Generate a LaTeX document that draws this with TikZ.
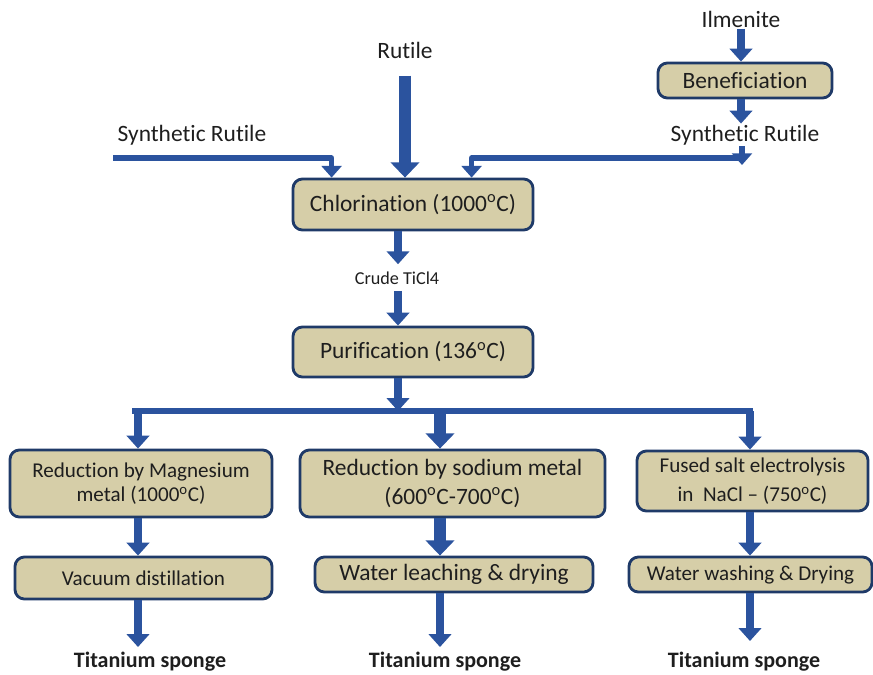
\documentclass[tikz,border=0pt]{standalone}
\usepackage{fontspec}
\setmainfont[Ligatures={NoCommon,NoContextual}]{Carlito}
\usetikzlibrary{arrows.meta,calc}
\definecolor{boxfill}{RGB}{214,206,168}
\definecolor{boxline}{RGB}{31,58,104}
\definecolor{flowblue}{RGB}{43,83,158}
\definecolor{txt}{RGB}{30,30,30}
\newcommand{\dg}{\textsuperscript{o}C}
\begin{document}
\begin{tikzpicture}[x=0.03cm,y=-0.03cm,line join=round,text=txt,
  box/.style={draw=boxline,fill=boxfill,line width=2.4pt,rounded corners=8pt,align=center,inner sep=0pt},
  big/.style={font=\fontsize{20pt}{25pt}\selectfont},
  small/.style={font=\fontsize{18pt}{21pt}\selectfont},
  flow/.style={draw=flowblue,line width=7pt,-{Triangle[width=19pt,length=11pt]}},
  bigflow/.style={draw=flowblue,line width=11pt,-{Triangle[width=24pt,length=13pt]}},
  feed/.style={draw=flowblue,line width=4.5pt,-{Triangle[width=17pt,length=10pt]}},
  pipe/.style={draw=flowblue,line width=4.5pt,line cap=rect}]
\useasboundingbox (0,0) rectangle (873,674);
% feeds
\node[big,inner sep=1pt] (rut) at (405,50) {Rutile};
\node[big,inner sep=1pt] (ilm) at (741,19) {Ilmenite};
\node[big,inner sep=1pt] (synL) at (192,135) {Synthetic Rutile};
\node[big,inner sep=1pt] (synR) at (745,135) {Synthetic Rutile};
\node[box,big,minimum width=5.22cm,minimum height=1.05cm] (benef) at (745,80.5) {Beneficiation};
% main line
\node[box,big,minimum width=7.2cm,minimum height=1.53cm] (chlor) at (413,204.5) {Chlorination (1000\dg)};
\node[font=\fontsize{15.5pt}{16pt}\selectfont,inner sep=1pt] (crude) at (397,278) {Crude TiCl4};
\node[box,big,minimum width=7.2cm,minimum height=1.5cm] (purif) at (413,352) {Purification (136\dg)};
% three routes
\node[box,small,minimum width=7.86cm,minimum height=2.01cm] (mg) at (141,483.5) {Reduction by Magnesium\\metal (1000\dg)};
\node[box,small,minimum width=7.71cm,minimum height=1.26cm] (vac) at (143.5,578) {Vacuum distillation};
\node[box,big,minimum width=9.15cm,minimum height=2.01cm] (na) at (452.5,483.5) {Reduction by sodium metal\\(600\dg-700\dg)};
\node[box,big,minimum width=8.34cm,minimum height=1.05cm] (leach) at (454,574.5) {Water leaching \& drying};
\node[box,small,font=\fontsize{18pt}{25pt}\selectfont,minimum width=6.93cm,minimum height=1.8cm] (salt) at (752.5,481) {Fused salt electrolysis\\in\ \ NaCl -- (750\dg)};
\node[box,small,minimum width=7.29cm,minimum height=1.05cm] (wash) at (750.5,574.5) {Water washing \& Drying};
\node[font=\fontsize{18.8pt}{20pt}\selectfont\bfseries,inner sep=1pt] (sp1) at (150,662) {Titanium sponge};
\node[font=\fontsize{18.8pt}{20pt}\selectfont\bfseries,inner sep=1pt] (sp2) at (445,662) {Titanium sponge};
\node[font=\fontsize{18.8pt}{20pt}\selectfont\bfseries,inner sep=1pt] (sp3) at (744,662) {Titanium sponge};
\coordinate (sl) at (113,158);
\coordinate (sr) at (742,158);
\coordinate (busL) at (138,411);
\coordinate (busM) at (440,411);
\coordinate (busR) at (750,411);
\coordinate (pf) at ($(purif.south)+(-15,0)$);
% arrows
\draw[bigflow] ($(rut.south)+(0,16)$) -- (rut.south |- chlor.north);
\draw[flow] (ilm.south) -- (ilm.south |- benef.north);
\draw[flow] (ilm.south |- benef.south) -- (ilm.south |- synR.north);
\draw[feed] (sr |- synR.south) -- ($(sr)+(0,7)$);
\draw[feed] (sl) -| ($(chlor.north west)+(40,0)$);
\draw[feed] (sr) -| ($(chlor.north west)+(180,0)$);
\draw[flow] ($(chlor.south)+(-15,0)$) -- ($(crude.north)+(1,-6)$);
\draw[flow] ($(crude.south)+(1,5)$) -- ($(purif.north)+(-15,0)$);
\draw[flow] (pf) -- (pf |- busL);
\draw[pipe] ($(busL)+(-3,0)$) -- (busR);
\draw[flow] (busL) -- (busL |- mg.north);
\draw[bigflow] (busM) -- (busM |- na.north);
\draw[flow] (busR) -- (busR |- salt.north);
\draw[flow] (busL |- mg.south) -- (busL |- vac.north);
\draw[bigflow] (busM |- na.south) -- (busM |- leach.north);
\draw[flow] (busR |- salt.south) -- (busR |- wash.north);
\draw[flow] (busL |- vac.south) -- ($(busL |- sp1.north)+(0,-4)$);
\draw[flow] (busM |- leach.south) -- ($(busM |- sp2.north)+(0,-4)$);
\draw[flow] (busR |- wash.south) -- ($(busR |- sp3.north)+(0,-10)$);
\end{tikzpicture}
\end{document}
